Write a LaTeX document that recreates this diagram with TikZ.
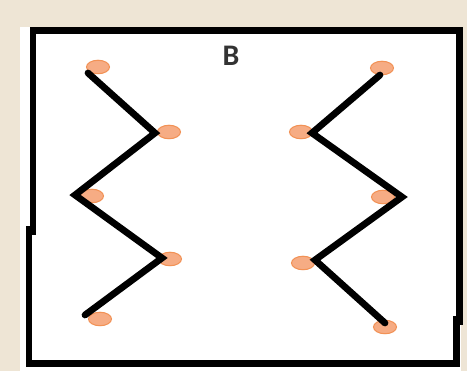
\documentclass[tikz,border=0pt]{standalone}
\usepackage{fontspec}
\setsansfont{Carlito}
\usepackage{tikz}
\usetikzlibrary{shapes.geometric}
\definecolor{paper}{RGB}{238,229,213}
\definecolor{dotfill}{RGB}{246,172,132}
\definecolor{dotline}{RGB}{242,146,86}

\begin{document}
\begin{tikzpicture}[x=0.02cm,y=-0.02cm]
  \tikzstyle{dot}=[ellipse,draw=dotline,fill=dotfill,line width=0.6pt,minimum width=0.46cm,minimum height=0.27cm,inner sep=0pt]
  \tikzstyle{zig}=[line width=0.135cm,line cap=round]
  \tikzstyle{frame}=[line width=0.14cm,line cap=rect]
  \useasboundingbox (0,0) rectangle (467,371);
  \fill[paper] (0,0) rectangle (467,371);
  \fill[white] (20,27) rectangle (461,371);
  % box
  \draw[frame] (33,232) -- (33,31) -- (459,31) -- (459,322);
  \draw[frame] (29,230) -- (29,364) -- (456,364) -- (456,320);
  \node[font=\sffamily\bfseries\fontsize{17}{17}\selectfont,text=black!80] (title) at (231,56) {B};
  % left chain
  \node[dot] (a1) at (98,67) {};
  \node[dot] (a2) at (169,132) {};
  \node[dot] (a3) at (92,196) {};
  \node[dot] (a4) at (170,259) {};
  \node[dot] (a5) at (100,319) {};
  \coordinate (p1) at (88,73);
  \coordinate (p2) at (155,133);
  \coordinate (p3) at (75,195);
  \coordinate (p4) at (162,258);
  \coordinate (p5) at (85,315);
  \draw[zig] (p1) -- (p2) -- (p3) -- (p4) -- (p5);
  % right chain
  \node[dot] (b1) at (382,68) {};
  \node[dot] (b2) at (301,132) {};
  \node[dot] (b3) at (383,197) {};
  \node[dot] (b4) at (303,263) {};
  \node[dot] (b5) at (385,327) {};
  \coordinate (q1) at (380,75);
  \coordinate (q2) at (312,133);
  \coordinate (q3) at (402,197);
  \coordinate (q4) at (315,260);
  \coordinate (q5) at (385,323);
  \draw[zig] (q1) -- (q2) -- (q3) -- (q4) -- (q5);
\end{tikzpicture}
\end{document}
